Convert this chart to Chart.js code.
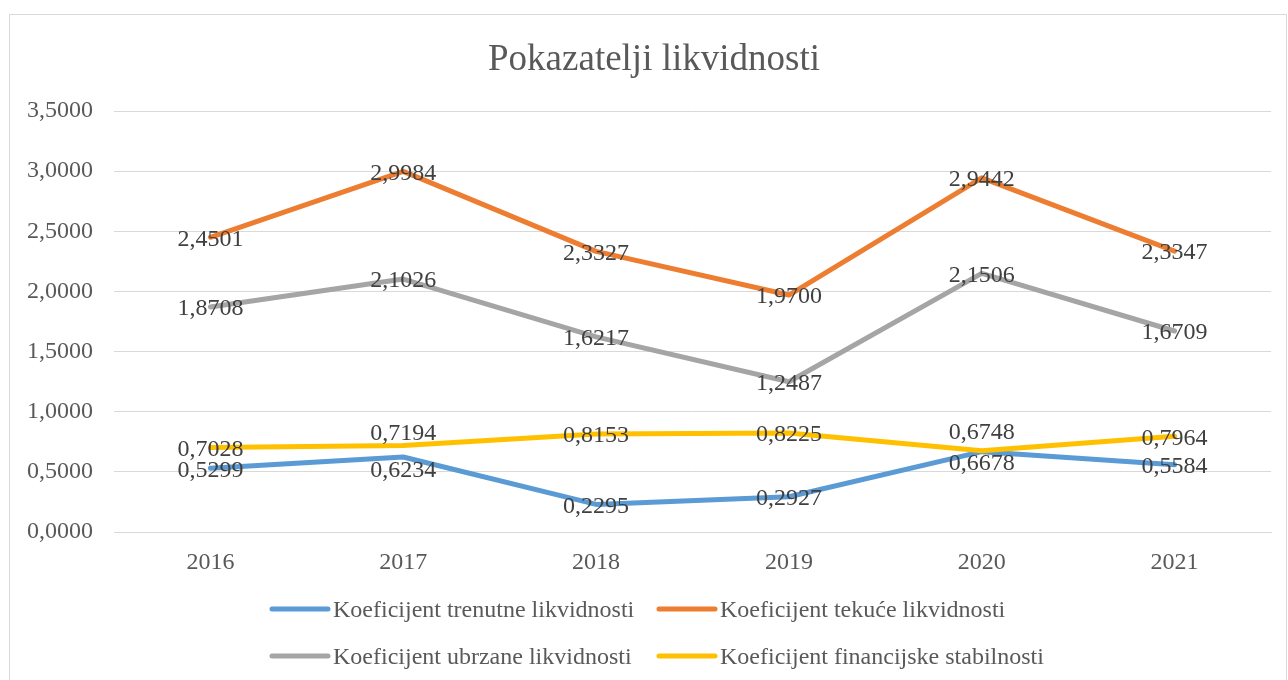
<!DOCTYPE html>
<html lang="hr">
<head>
    <meta charset="UTF-8">
    <title>Pokazatelji likvidnosti</title>
    <script src="https://cdn.jsdelivr.net/npm/chart.js"></script>
    <style>
        body { margin: 0; background: #fff; }
        #wrap { position: relative; width: 1288px; height: 680px; overflow: hidden; }
        #frame { position: absolute; left: 9px; top: 14px; width: 1276px; height: 700px; border: 1px solid #d9d9d9; }
        canvas { position: absolute; left: 0; top: 0; }
    </style>
</head>
<body>
<div id="wrap">
    <div id="frame"></div>
    <canvas id="likvidnost" width="1288" height="680"></canvas>
</div>
<script>
    // podaci s grafikona
    const years = ['2016', '2017', '2018', '2019', '2020', '2021'];
    const trenutne = [0.5299, 0.6234, 0.2295, 0.2927, 0.6678, 0.5584];
    const tekuce = [2.4501, 2.9984, 2.3327, 1.9700, 2.9442, 2.3347];
    const ubrzane = [1.8708, 2.1026, 1.6217, 1.2487, 2.1506, 1.6709];
    const stabilnost = [0.7028, 0.7194, 0.8153, 0.8225, 0.6748, 0.7964];
    const seriesNames = [
        'Koeficijent trenutne likvidnosti',
        'Koeficijent tekuće likvidnosti',
        'Koeficijent ubrzane likvidnosti',
        'Koeficijent financijske stabilnosti'
    ];

    const SERIF = '"Liberation Serif", "Times New Roman", serif';
    const colors = ['#5b9bd5', '#ed7d31', '#a5a5a5', '#ffc000'];

    // pomaci natpisa koji se preklapaju (dataset:index -> px)
    const labelNudge = { '0:1': 12, '3:1': -14, '0:4': 10, '3:4': -20 };

    function fmt(v) {
        return v.toFixed(4).replace('.', ',');
    }

    const extras = {
        id: 'extras',
        afterDatasetsDraw(chart) {
            const ctx = chart.ctx;
            ctx.save();
            ctx.font = '24px ' + SERIF;
            ctx.fillStyle = '#404040';
            ctx.textAlign = 'center';
            ctx.textBaseline = 'middle';
            chart.data.datasets.forEach((ds, di) => {
                const meta = chart.getDatasetMeta(di);
                meta.data.forEach((pt, i) => {
                    const dy = labelNudge[di + ':' + i] || 0;
                    ctx.fillText(fmt(ds.data[i]), pt.x, pt.y + dy + 2);
                });
            });
            ctx.restore();
        },
        afterDraw(chart) {
            const ctx = chart.ctx;
            ctx.save();
            // naslov
            ctx.font = '37px ' + SERIF;
            ctx.fillStyle = '#595959';
            ctx.textAlign = 'center';
            ctx.textBaseline = 'middle';
            ctx.fillText('Pokazatelji likvidnosti', 654, 60);
            // legenda u dva stupca
            const cols = [270, 657];
            const rows = [609, 656];
            ctx.font = '24px ' + SERIF;
            ctx.textAlign = 'left';
            chart.data.datasets.forEach((ds, di) => {
                const x = cols[di % 2];
                const y = rows[Math.floor(di / 2)];
                ctx.strokeStyle = ds.borderColor;
                ctx.lineWidth = 5;
                ctx.lineCap = 'round';
                ctx.beginPath();
                ctx.moveTo(x + 2, y);
                ctx.lineTo(x + 58, y);
                ctx.stroke();
                ctx.fillStyle = '#595959';
                ctx.fillText(ds.label, x + 63, y + 2);
            });
            ctx.restore();
        }
    };

    const seriesData = [trenutne, tekuce, ubrzane, stabilnost];

    new Chart(document.getElementById('likvidnost'), {
        type: 'line',
        data: {
            labels: years,
            datasets: seriesData.map((d, i) => ({
                label: seriesNames[i],
                data: d,
                borderColor: colors[i],
                backgroundColor: colors[i],
                borderWidth: 5,
                pointRadius: 0,
                tension: 0,
                borderJoinStyle: 'round',
                borderCapStyle: 'round',
                order: 4 - i
            }))
        },
        options: {
            responsive: false,
            animation: false,
            layout: { padding: { left: 10, right: 17, top: 111, bottom: 103 } },
            plugins: {
                legend: { display: false },
                title: { display: false },
                tooltip: { enabled: false }
            },
            scales: {
                x: {
                    offset: true,
                    grid: { display: false, drawTicks: false },
                    border: { display: true, color: '#d9d9d9', width: 1 },
                    ticks: { color: '#595959', font: { family: SERIF, size: 24 }, padding: 16, maxRotation: 0 },
                    afterFit(scale) { scale.height = 45; }
                },
                y: {
                    min: 0,
                    max: 3.5,
                    grid: { color: '#d9d9d9', lineWidth: 1, drawTicks: false },
                    border: { display: false },
                    ticks: {
                        stepSize: 0.5,
                        color: '#595959',
                        font: { family: SERIF, size: 24 },
                        padding: 21,
                        callback: v => fmt(v)
                    },
                    afterFit(scale) { scale.width = 104; }
                }
            }
        },
        plugins: [extras]
    });
</script>
</body>
</html>
